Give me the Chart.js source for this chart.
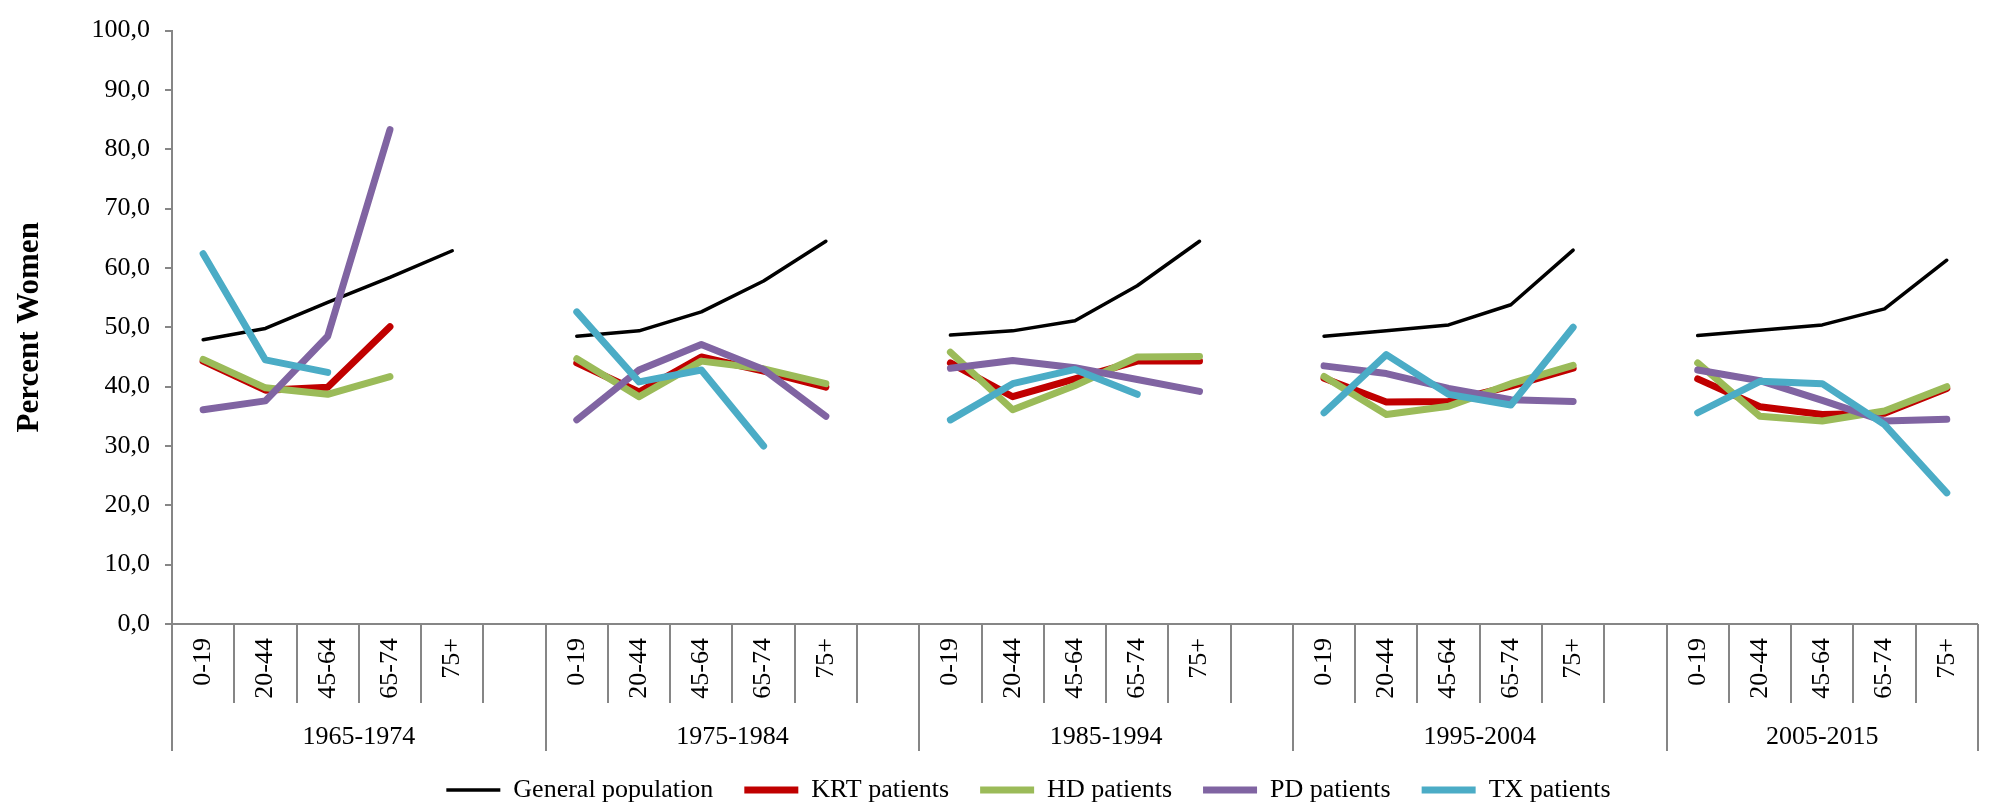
<!DOCTYPE html>
<html>
<head>
<meta charset="utf-8">
<script src="https://cdn.jsdelivr.net/npm/chart.js@4.4.1/dist/chart.umd.min.js"></script>
<style>
  html, body { margin: 0; padding: 0; background: #fff; }
  #wrap { width: 1992px; height: 808px; }
</style>
</head>
<body>
<div id="wrap"><canvas id="womenChart"></canvas></div>
<script>
// The data represented (one array of 5 age groups per period)
const ageGroups = ["0-19", "20-44", "45-64", "65-74", "75+"];
const periods = ["1965-1974", "1975-1984", "1985-1994", "1995-2004", "2005-2015"];
const yTicks = [0, 10, 20, 30, 40, 50, 60, 70, 80, 90, 100];

const generalPopulation = [
  [47.9, 49.8, 54.2, 58.4, 62.9],
  [48.5, 49.4, 52.6, 57.8, 64.5],
  [48.7, 49.4, 51.1, 57.0, 64.5],
  [48.5, 49.4, 50.4, 53.8, 63.0],
  [48.6, 49.5, 50.4, 53.1, 61.3],
];
const krtPatients = [
  [44.3, 39.4, 39.9, 50.1, null],
  [44.0, 39.1, 45.0, 42.6, 39.9],
  [44.0, 38.3, 41.3, 44.3, 44.3],
  [41.4, 37.4, 37.5, 40.1, 43.1],
  [41.3, 36.6, 35.3, 35.5, 39.7],
];
const hdPatients = [
  [44.6, 39.8, 38.7, 41.7, null],
  [44.7, 38.3, 44.3, 43.0, 40.5],
  [45.8, 36.1, 40.2, 45.0, 45.1],
  [41.7, 35.3, 36.7, 40.5, 43.6],
  [44.0, 35.0, 34.2, 35.9, 40.0],
];
const pdPatients = [
  [36.1, 37.6, 48.5, 83.3, null],
  [34.4, 42.8, 47.1, 42.9, 35.0],
  [43.1, 44.4, 43.2, 41.2, 39.2],
  [43.5, 42.2, 39.7, 37.8, 37.5],
  [42.8, 41.0, 37.7, 34.2, 34.5],
];
const txPatients = [
  [62.4, 44.5, 42.4, null, null],
  [52.6, 40.8, 42.8, 30.0, null],
  [34.4, 40.5, 42.9, 38.7, null],
  [35.6, 45.4, 38.7, 36.9, 50.0],
  [35.6, 40.9, 40.5, 33.6, 22.1],
];

const axisGrey = "#868686";
const fontFamily = '"Liberation Serif", "Times New Roman", serif';

// Flatten into one category axis, with an empty slot between periods
const labels = [];
periods.forEach((p, g) => {
  ageGroups.forEach((a) => labels.push(a));
  if (g < periods.length - 1) labels.push("");
});
const flatten = (series) => {
  const out = [];
  series.forEach((row, g) => {
    row.forEach((v) => out.push(v));
    if (g < series.length - 1) out.push(null);
  });
  return out;
};

// Draws the second level of the x axis: slot separators and period names
const periodAxis = {
  id: "periodAxis",
  afterLayout(chart) {
    // legend sits a little right of the canvas centre in the original
    if (chart.legend) {
      chart.legend.left += 33;
      chart.legend.right += 33;
    }
  },
  afterDraw(chart) {
    const { ctx, scales: { x } } = chart;
    const step = x.getPixelForValue(1) - x.getPixelForValue(0);
    const top = x.top;
    ctx.save();
    ctx.strokeStyle = axisGrey;
    ctx.lineWidth = 2;
    for (let i = 0; i <= labels.length; i++) {
      const px = Math.round(x.getPixelForValue(i) - step / 2);
      const groupEdge = i % 6 === 0 || i === labels.length;
      ctx.beginPath();
      ctx.moveTo(px, top);
      ctx.lineTo(px, top + (groupEdge ? 127 : 79));
      ctx.stroke();
    }
    ctx.fillStyle = "#000";
    ctx.font = "26px " + fontFamily;
    ctx.textAlign = "center";
    ctx.textBaseline = "middle";
    periods.forEach((p, g) => {
      const first = g * 6;
      const last = Math.min(first + 5, labels.length - 1);
      const cx = (x.getPixelForValue(first) + x.getPixelForValue(last)) / 2;
      ctx.fillText(p, cx, top + 113);
    });
    ctx.restore();
  },
};

const makeSet = (label, series, color, width, order) => ({
  label: label,
  data: flatten(series),
  borderColor: color,
  backgroundColor: color,
  borderWidth: width,
  pointRadius: 0,
  pointHoverRadius: 0,
  pointStyle: "line",
  tension: 0,
  borderCapStyle: "round",
  borderJoinStyle: "round",
  spanGaps: false,
  order: order,
});

Chart.defaults.font.family = fontFamily;
Chart.defaults.color = "#000";

const config = {
  type: "line",
  data: {
    labels: labels,
    datasets: [
      makeSet("General population", generalPopulation, "#000000", 3.5, 5),
      makeSet("KRT patients", krtPatients, "#C00000", 7, 4),
      makeSet("HD patients", hdPatients, "#9BBB59", 7, 3),
      makeSet("PD patients", pdPatients, "#8064A2", 7, 2),
      makeSet("TX patients", txPatients, "#4BACC6", 7, 1),
    ],
  },
  options: {
    responsive: true,
    maintainAspectRatio: false,
    animation: false,
    layout: { padding: { top: 17, right: 1, left: 0, bottom: 0 } },
    plugins: {
      tooltip: { enabled: false },
      legend: {
        position: "bottom",
        maxHeight: 62,
        labels: {
          usePointStyle: true,
          pointStyle: "line",
          pointStyleWidth: 54,
          padding: 31,
          font: { size: 26 },
          color: "#000",
          sort: (a, b) => a.datasetIndex - b.datasetIndex,
        },
      },
    },
    scales: {
      x: {
        offset: true,
        grid: { display: false, drawTicks: false, offset: true },
        border: { color: axisGrey, width: 2 },
        ticks: {
          autoSkip: false,
          minRotation: 90,
          maxRotation: 90,
          padding: 14,
          font: { size: 26 },
        },
        afterFit: (scale) => { scale.height = 122; },
      },
      y: {
        min: 0,
        max: 100,
        afterBuildTicks: (scale) => { scale.ticks = yTicks.map((v) => ({ value: v })); },
        grid: { drawOnChartArea: false, tickLength: 7, color: axisGrey, lineWidth: 2 },
        border: { color: axisGrey, width: 2 },
        ticks: {
          padding: 15,
          font: { size: 26 },
          callback: (v) => v.toFixed(1).replace(".", ","),
        },
        title: {
          display: true,
          text: "Percent Women",
          font: { size: 31, weight: "bold" },
          padding: { top: 11, bottom: 0 },
        },
        afterFit: (scale) => { scale.width = 172; },
      },
    },
  },
  plugins: [periodAxis],
};

const womenChart = new Chart(document.getElementById("womenChart"), config);
</script>
</body>
</html>
